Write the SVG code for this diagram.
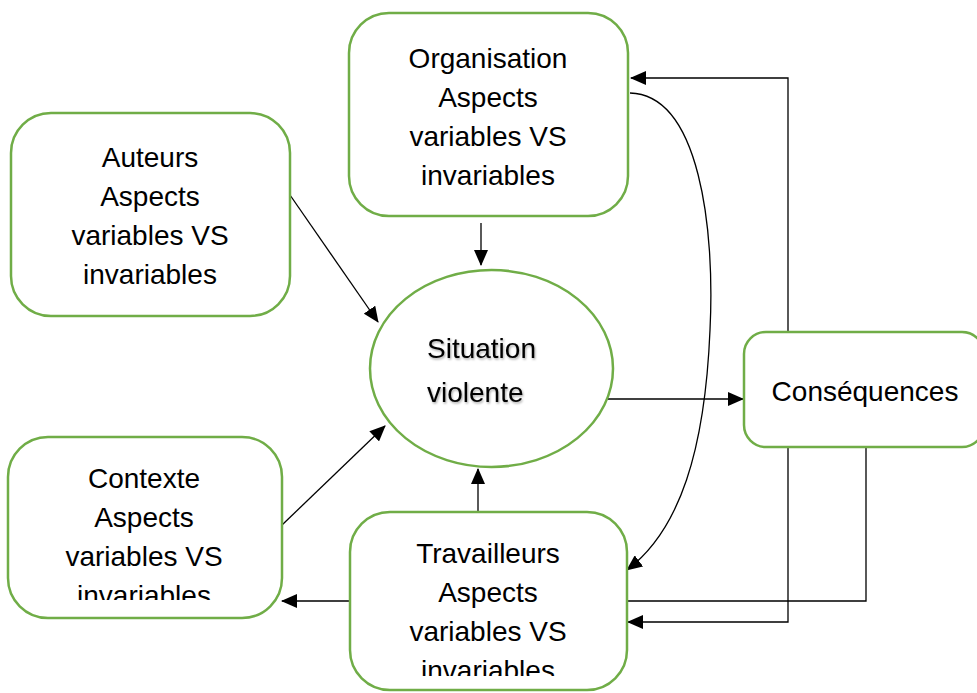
<svg xmlns="http://www.w3.org/2000/svg" width="977" height="693" viewBox="0 0 977 693">
<style>
.box{fill:#fff;stroke:#70AD47;stroke-width:2.5}
.t{font-family:"Liberation Sans",Arial,sans-serif;font-size:28px;fill:#000;text-anchor:middle}
.c{fill:none;stroke:#000;stroke-width:1.3}
</style>
<defs>
<marker id="ah" markerUnits="userSpaceOnUse" markerWidth="16" markerHeight="14" viewBox="0 0 16 14" refX="15" refY="7" orient="auto">
<path d="M0,0 L16,7 L0,14 Z" fill="#000"/>
</marker>
<clipPath id="clipCtx"><rect x="0" y="430" width="300" height="170"/></clipPath>
<clipPath id="clipTrav"><rect x="340" y="505" width="300" height="171"/></clipPath>
<filter id="sh" x="-10%" y="-10%" width="120%" height="130%"><feDropShadow dx="1" dy="1.5" stdDeviation="0.8" flood-color="#000" flood-opacity="0.35"/></filter>
</defs>
<rect width="977" height="693" fill="#fff"/>
<g id="connectors">
<path class="c" d="M290,195 L378,322" marker-end="url(#ah)"/>
<path class="c" d="M481,223 L481,265" marker-end="url(#ah)"/>
<path class="c" d="M282,525 L385,426" marker-end="url(#ah)"/>
<path class="c" d="M478,512 L478,469" marker-end="url(#ah)"/>
<path class="c" d="M608,399 L743,399" marker-end="url(#ah)"/>
<path class="c" d="M788,332 L788,78 L631,78" marker-end="url(#ah)"/>
<path class="c" d="M788,447 L788,622 L628,622" marker-end="url(#ah)"/>
<path class="c" d="M630,93 C700,95 715,230 710,330 C705,450 680,530 627,570" marker-end="url(#ah)"/>
<path class="c" stroke="#404040" d="M866,447 L866,601 L282,601" marker-end="url(#ah)"/>
</g>
<g id="organisation">
<rect class="box" x="349" y="13" width="279" height="203" rx="40"/>
<text class="t" x="488" y="68">Organisation</text>
<text class="t" x="488" y="107">Aspects</text>
<text class="t" x="488" y="146">variables VS</text>
<text class="t" x="488" y="185">invariables</text>
</g>
<g id="auteurs">
<rect class="box" x="11" y="113" width="279" height="203" rx="40"/>
<text class="t" x="150" y="167">Auteurs</text>
<text class="t" x="150" y="206">Aspects</text>
<text class="t" x="150" y="245">variables VS</text>
<text class="t" x="150" y="284">invariables</text>
</g>
<g id="contexte">
<rect class="box" x="8" y="437" width="274" height="181" rx="40"/>
<g clip-path="url(#clipCtx)">
<text class="t" x="144" y="488">Contexte</text>
<text class="t" x="144" y="527">Aspects</text>
<text class="t" x="144" y="566">variables VS</text>
<text class="t" x="144" y="605">invariables</text>
</g>
</g>
<g id="travailleurs">
<rect class="box" x="350" y="512" width="277" height="178" rx="40"/>
<g clip-path="url(#clipTrav)">
<text class="t" x="488" y="563">Travailleurs</text>
<text class="t" x="488" y="602">Aspects</text>
<text class="t" x="488" y="641">variables VS</text>
<text class="t" x="488" y="680">invariables</text>
</g>
</g>
<g id="situation">
<ellipse class="box" cx="491.5" cy="368.5" rx="121.5" ry="98.5"/>
<g filter="url(#sh)">
<text class="t" style="text-anchor:start" x="427" y="358">Situation</text>
<text class="t" style="text-anchor:start" x="427" y="402">violente</text>
</g>
</g>
<g id="consequences">
<rect class="box" x="744" y="332" width="240" height="115" rx="22"/>
<text class="t" x="865" y="401">Conséquences</text>
</g>
</svg>
